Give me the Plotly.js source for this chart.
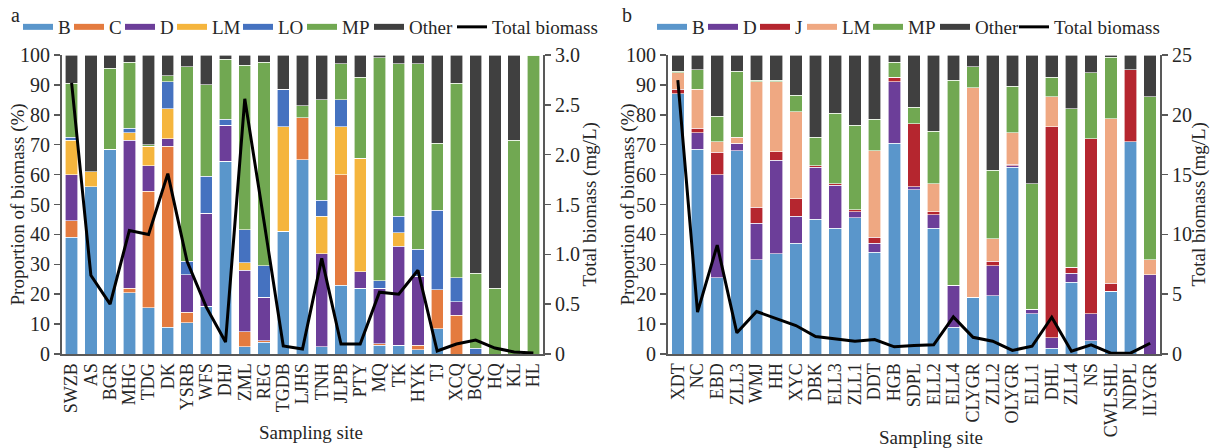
<!DOCTYPE html>
<html>
<head>
<meta charset="utf-8">
<script src="https://cdn.plot.ly/plotly-3.0.1.min.js"></script>
<style>html,body{margin:0;padding:0;background:#fff;}#chart{width:1213px;height:448px;}</style>
</head>
<body>
<div id="chart"></div>
<script>
// ---------- Panel a ----------
const sitesA = ["SWZB","AS","BGR","MHG","TDG","DK","YSRB","WFS","DHJ","ZML","REG","TGDB","LJHS","TNH","JLPB","PTY","MQ","TK","HYK","TJ","XCQ","BQC","HQ","KL","HL"];
const aB     = [39, 56, 68.5, 20.5, 15.5, 9, 10.5, 16, 64.5, 2.5, 4, 41, 65, 2.5, 23, 22, 3, 3, 1.5, 8.5, 0, 0, 0, 0, 0];
const aC     = [5.5, 0, 0, 1.5, 39, 60.5, 3.5, 0, 0, 5, 0.5, 0, 14, 0, 37, 0, 0.5, 0, 1.5, 13, 13, 0, 0, 0, 0];
const aD     = [15.5, 0, 0, 49.5, 8.5, 2.5, 12.5, 31, 12, 20.5, 14.5, 0, 0, 31, 0, 5.5, 18.5, 33, 23, 0, 4.5, 0, 0, 0, 0];
const aLM    = [11.5, 5, 0, 2.5, 6.5, 10, 0, 0, 0, 2.5, 0, 35, 0, 12.5, 16, 38, 0, 4.5, 0, 0, 0, 0, 0, 0, 0];
const aLO    = [1, 0, 0, 1.5, 0, 9, 4.5, 12.5, 2, 11, 10.5, 12.5, 0, 5.5, 9, 0, 2.5, 5.5, 9, 26.5, 8, 2, 0, 0, 0];
const aMP    = [18, 0, 27, 22, 0.5, 2, 65, 30.5, 20, 55, 68, 0, 4, 33.5, 12, 27, 74.5, 51, 62, 22.5, 65, 25, 22, 71.5, 100];
const aOther = [9.5, 39, 4.5, 2.5, 30, 7, 4, 10, 1.5, 3.5, 2.5, 11.5, 17, 15, 3, 7.5, 1, 3, 3, 29.5, 9.5, 73, 78, 28.5, 0];
const aTotal = [2.72, 0.79, 0.5, 1.24, 1.2, 1.81, 0.93, 0.47, 0.12, 2.56, 1.33, 0.08, 0.05, 0.96, 0.1, 0.1, 0.62, 0.6, 0.84, 0.03, 0.1, 0.14, 0.06, 0.02, 0.01];

// ---------- Panel b ----------
const sitesB = ["XDT","NC","EBD","ZLL3","WMJ","HH","XYC","DBK","ELL3","ZLL1","DDT","HGB","SDPL","ELL2","ELL4","CLYGR","ZLL2","OLYGR","ELL1","DHL","ZLL4","NS","CWLSHL","NDPL","ILYGR"];
const bB     = [87, 68.5, 25.5, 68, 31.5, 33.5, 37, 45, 42, 45.5, 34, 70.5, 55, 42, 9, 19, 19.5, 62.5, 13.5, 2, 24, 4.5, 21, 71, 0];
const bD     = [0, 5.5, 34.5, 2.3, 12.2, 31.3, 9, 17.5, 14.5, 2, 3, 20.5, 1, 4.5, 14, 0, 10, 0.5, 1.5, 3.5, 3, 9, 0, 0, 26.5];
const bJ     = [1.5, 1.5, 7.5, 0.2, 5.3, 2.9, 6, 0.5, 0.5, 0.8, 2, 1.5, 21, 1, 0, 0, 1.5, 0.5, 0, 70.5, 2, 58.5, 2.7, 24, 0];
const bLM    = [5.5, 13, 3.5, 2, 42, 23.3, 29, 0, 0, 0, 29, 0, 0, 9.5, 0, 70, 7.5, 10.5, 0, 10, 0, 0, 55, 0, 5];
const bMP    = [0.5, 6.5, 8.5, 22, 0.5, 0.5, 5.5, 9.5, 23.5, 28.2, 10.5, 5, 5.5, 17.5, 68.5, 7, 23, 15.5, 42, 6.5, 53, 22, 20.5, 0, 54.5];
const bOther = [5.5, 5, 20.5, 5.5, 8.5, 8.5, 13.5, 27.5, 19.5, 23.5, 21.5, 2.5, 17.5, 25.5, 8.5, 4, 38.5, 10.5, 43, 7.5, 18, 6, 0.8, 5, 14];
const bTotal = [22.9, 3.5, 9.1, 1.77, 3.55, 2.94, 2.38, 1.46, 1.27, 1.07, 1.21, 0.6, 0.72, 0.77, 3.1, 1.4, 1.07, 0.3, 0.65, 3.07, 0.24, 0.77, 0.07, 0.07, 0.9];

const leftTicks = [0,10,20,30,40,50,60,70,80,90,100];
const rightTicksA = [0,0.5,1,1.5,2,2.5,3];
const rightTickTextA = ["0","0.5","1.0","1.5","2.0","2.5","3.0"];
const rightTicksB = [0,5,10,15,20,25];

const yTitle = "Proportion of biomass (%)";
const y2Title = "Total biomass (mg/L)";
const xTitle = "Sampling site";

// colours
const C = {B:"#5A96CB", C:"#E47B3F", D:"#6C3E99", LM:"#F5B53D", LO:"#4572C0", MP:"#71A852", Other:"#404040",
           J:"#B5262F", LM2:"#EFA882"};

const FONT = "Liberation Serif, Times New Roman, serif";
const TXT = "#262626";
const AX = "#595959";

const traces = [];
function addBars(sites, vals, name, color, xa, ya, leg, lw) {
  traces.push({type:"bar", x:sites, y:vals, name:name, xaxis:xa, yaxis:ya,
    marker:{color:color, line:{color:"#ffffff", width:0.6}}, showlegend:false, hoverinfo:"x+y+name"});
  traces.push({type:"scatter", mode:"lines", x:[sites[0]], y:[null], name:name, xaxis:xa, yaxis:ya,
    line:{color:color, width:6}, legend:leg, legendwidth:lw, showlegend:true, hoverinfo:"skip"});
}
addBars(sitesA, aB, "B", C.B, "x", "y", "legend", 6);
addBars(sitesA, aC, "C", C.C, "x", "y", "legend", 6);
addBars(sitesA, aD, "D", C.D, "x", "y", "legend", 7);
addBars(sitesA, aLM, "LM", C.LM, "x", "y", "legend", 21);
addBars(sitesA, aLO, "LO", C.LO, "x", "y", "legend", 19);
addBars(sitesA, aMP, "MP", C.MP, "x", "y", "legend", 22);
addBars(sitesA, aOther, "Other", C.Other, "x", "y", "legend", 38);
traces.push({type:"scatter", mode:"lines", x:sitesA, y:aTotal, name:"Total biomass", xaxis:"x", yaxis:"y2",
  line:{color:"#000000", width:3}, legend:"legend", legendwidth:110});

addBars(sitesB, bB, "B", C.B, "x2", "y3", "legend2", 6);
addBars(sitesB, bD, "D", C.D, "x2", "y3", "legend2", 7);
addBars(sitesB, bJ, "J", C.J, "x2", "y3", "legend2", 2);
addBars(sitesB, bLM, "LM", C.LM2, "x2", "y3", "legend2", 21);
addBars(sitesB, bMP, "MP", C.MP, "x2", "y3", "legend2", 22);
addBars(sitesB, bOther, "Other", C.Other, "x2", "y3", "legend2", 34);
traces.push({type:"scatter", mode:"lines", x:sitesB, y:bTotal, name:"Total biomass", xaxis:"x2", yaxis:"y4",
  line:{color:"#000000", width:3}, legend:"legend2", legendwidth:110});

const W = 1213, H = 448;
const yTop = 55, yBot = 354;
const yDom = [(H-yBot)/H, (H-yTop)/H];
const baseY = {range:[0,100], tickvals:leftTicks, ticks:"outside", ticklen:6, tickwidth:1.5, tickcolor:AX,
  showline:true, linecolor:AX, linewidth:2, showgrid:false, zeroline:false, automargin:false,
  tickfont:{family:FONT, size:20, color:TXT}, fixedrange:true};
const baseX = {type:"category", showline:true, linecolor:AX, linewidth:2, ticks:"", tickangle:-90,
  tickmode:"linear", tick0:0, dtick:1,
  showgrid:false, zeroline:false, automargin:false, tickfont:{family:FONT, size:18, color:TXT}, fixedrange:true};
const legBase = {orientation:"h", xanchor:"left", yanchor:"middle", y:1-27/H, font:{family:FONT, size:19, color:TXT},
  bgcolor:"rgba(0,0,0,0)", itemwidth:30, traceorder:"normal"};

function ann(text, px, py, angle, size) {
  return {text:text, xref:"paper", yref:"paper", x:px/W, y:1-py/H, xanchor:"center", yanchor:"middle",
    showarrow:false, textangle:angle, font:{family:FONT, size:size, color:TXT}};
}

const layout = {
  width:W, height:H, margin:{l:0, r:0, t:0, b:0}, paper_bgcolor:"#fff", plot_bgcolor:"#fff",
  barmode:"stack", bargap:0.36, font:{family:FONT, color:TXT},
  xaxis: Object.assign({}, baseX, {domain:[62/W, 543/W], anchor:"y"}),
  yaxis: Object.assign({}, baseY, {domain:yDom, anchor:"x"}),
  yaxis2: Object.assign({}, baseY, {overlaying:"y", side:"right", anchor:"x", range:[0,3],
    tickvals:rightTicksA, ticktext:rightTickTextA}),
  xaxis2: Object.assign({}, baseX, {domain:[668/W, 1160/W], anchor:"y3"}),
  yaxis3: Object.assign({}, baseY, {domain:yDom, anchor:"x2"}),
  yaxis4: Object.assign({}, baseY, {overlaying:"y3", side:"right", anchor:"x2", range:[0,25],
    tickvals:rightTicksB}),
  legend: Object.assign({}, legBase, {x:18/W}),
  legend2: Object.assign({}, legBase, {x:652/W}),
  annotations:[
    ann("a", 15, 15, 0, 20),
    ann("b", 627, 15, 0, 20),
    ann(yTitle, 17, (yTop+yBot)/2, -90, 19),
    ann(y2Title, 589, (yTop+yBot)/2, -90, 19),
    ann(yTitle, 627, (yTop+yBot)/2, -90, 19),
    ann(y2Title, 1198, (yTop+yBot)/2, -90, 19),
    ann(xTitle, 311, 432, 0, 19),
    ann(xTitle, 931, 437, 0, 19)
  ]
};

Plotly.newPlot("chart", traces, layout, {displayModeBar:false, staticPlot:true});
</script>
</body>
</html>
